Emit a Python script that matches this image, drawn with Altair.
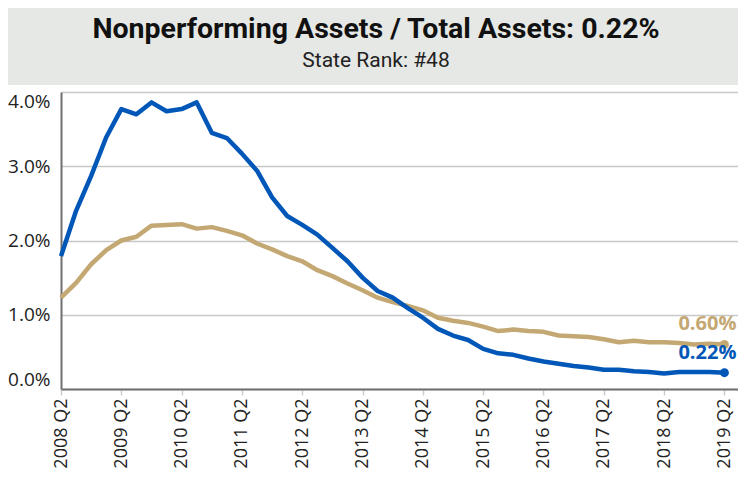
import altair as alt
import pandas as pd

TITLE = "Nonperforming Assets / Total Assets: 0.22%"
SUBTITLE = "State Rank: #48"

quarters = [f"{2008 + (i + 1) // 4} Q{(i + 1) % 4 + 1}" for i in range(45)]
tick_positions = list(range(0, 45, 4))

state = [1.79, 2.40, 2.87, 3.39, 3.77, 3.70, 3.86, 3.74, 3.77, 3.86,
         3.45, 3.38, 3.17, 2.94, 2.58, 2.33, 2.21, 2.08, 1.90, 1.72,
         1.50, 1.32, 1.23, 1.09, 0.96, 0.81, 0.72, 0.66, 0.54, 0.48,
         0.46, 0.41, 0.37, 0.34, 0.31, 0.29, 0.26, 0.26, 0.24, 0.23,
         0.21, 0.23, 0.23, 0.23, 0.22]

nation = [1.23, 1.43, 1.68, 1.87, 2.00, 2.05, 2.20, 2.21, 2.22, 2.16,
          2.18, 2.13, 2.07, 1.96, 1.88, 1.79, 1.72, 1.60, 1.52, 1.42,
          1.33, 1.23, 1.17, 1.12, 1.06, 0.96, 0.92, 0.89, 0.84, 0.78,
          0.80, 0.78, 0.77, 0.72, 0.71, 0.70, 0.67, 0.63, 0.65, 0.63,
          0.63, 0.62, 0.60, 0.61, 0.60]

BLUE = "#0057b8"
TAN = "#c4a874"
BANNER = "#e6e8e5"

df_state = pd.DataFrame({"idx": range(45), "quarter": quarters, "value": state})
df_nation = pd.DataFrame({"idx": range(45), "quarter": quarters, "value": nation})
df_end = pd.DataFrame({
    "idx": [44, 44],
    "value": [nation[-1], state[-1]],
    "label": [f"{nation[-1]:.2f}%", f"{state[-1]:.2f}%"],
    "series": ["nation", "state"],
})

W, H = 677, 297
PL, PT, PB = 53, 84, 86
X_MAX = 44.9

label_expr = "[" + ",".join(f"'{q}'" for q in quarters) + "][datum.value]"

x_enc = alt.X(
    "idx:Q",
    scale=alt.Scale(domain=[0, X_MAX], nice=False, zero=False),
    axis=alt.Axis(
        values=tick_positions,
        labelExpr=label_expr,
        labelAngle=270,
        labelFlush=False,
        labelOverlap=False,
        grid=False,
        domainColor="#707070",
        domainWidth=2,
        tickColor="#cccccc",
        tickSize=6,
        tickWidth=1.5,
        labelFont="Open Sans",
        labelFontSize=18,
        labelColor="#222222",
        labelPadding=3,
        title=None,
    ),
)
y_enc = alt.Y(
    "value:Q",
    scale=alt.Scale(domain=[0, 4], nice=False),
    axis=alt.Axis(
        values=[0, 1, 2, 3, 4],
        labelExpr="format(datum.value, '.1f') + '%'",
        grid=True,
        gridColor="#c8c8c8",
        gridWidth=1.5,
        ticks=False,
        domainColor="#707070",
        domainWidth=2,
        labelFlush=True,
        labelPadding=11,
        labelFont="Open Sans",
        labelFontSize=19,
        labelColor="#222222",
        title=None,
    ),
)

one = alt.Data(values=[{}])

banner = alt.Chart(one).mark_rect(color=BANNER).encode(
    x=alt.value(-PL), x2=alt.value(W), y=alt.value(-PT), y2=alt.value(-7)
)
title = alt.Chart(one).mark_text(
    font="Roboto", fontSize=28.5, fontWeight="bold", color="#111111",
    align="center", baseline="middle",
).encode(x=alt.value(315), y=alt.value(-63), text=alt.value(TITLE))
subtitle = alt.Chart(one).mark_text(
    font="Roboto", fontSize=21, color="#222222",
    align="center", baseline="middle",
).encode(x=alt.value(315), y=alt.value(-31), text=alt.value(SUBTITLE))

line_nation = alt.Chart(df_nation).mark_line(color=TAN, strokeWidth=4.5, strokeJoin="round").encode(
    x=x_enc, y=y_enc
)
line_state = alt.Chart(df_state).mark_line(color=BLUE, strokeWidth=4.5, strokeJoin="round").encode(
    x="idx:Q", y="value:Q"
)

color_scale = alt.Scale(domain=["nation", "state"], range=[TAN, BLUE])
dots = alt.Chart(df_end).mark_point(filled=True, size=80, opacity=1).encode(
    x="idx:Q", y="value:Q", color=alt.Color("series:N", scale=color_scale, legend=None)
)
labels = alt.Chart(df_end).mark_text(
    font="Open Sans", fontSize=20, fontWeight="bold", align="right", baseline="middle", dx=12, dy=-20
).encode(
    x="idx:Q", y="value:Q", text="label:N",
    color=alt.Color("series:N", scale=color_scale, legend=None),
)

chart = alt.layer(banner, title, subtitle, line_nation, line_state, dots, labels).properties(
    width=W, height=H,
    autosize=alt.AutoSizeParams(type="none"),
    padding={"left": PL, "top": PT, "right": 0, "bottom": PB},
).configure_view(stroke=None)

chart.save("out.html", embed_options={"renderer": "svg", "actions": False})
